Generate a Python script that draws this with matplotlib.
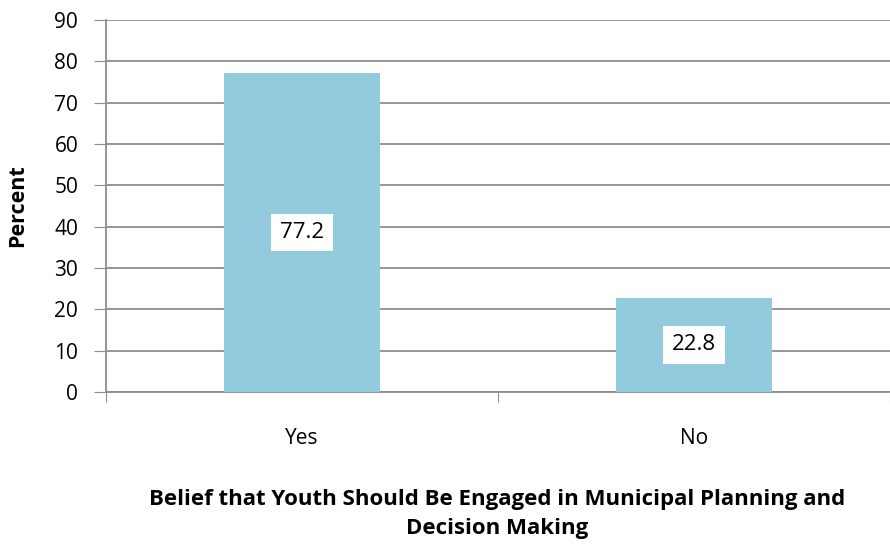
import matplotlib
matplotlib.use("Agg")
import matplotlib.pyplot as plt

categories = ["Yes", "No"]
percent = [77.2, 22.8]
y_ticks = [0, 10, 20, 30, 40, 50, 60, 70, 80, 90]

plt.rcParams['font.family'] = ['Open Sans', 'DejaVu Sans']

W, H = 890, 546
fig = plt.figure(figsize=(W / 100, H / 100), dpi=100)
ax = fig.add_axes([106 / W, 1 - 392 / H, (890 - 106) / W, (392 - 20) / H])

bar_color = "#92cbdd"
grid_color = "#8e8e8e"

x = list(range(len(categories)))
ax.bar(x, percent, width=0.398, color=bar_color, zorder=3)

for xi, v in zip(x, percent):
    ax.text(xi, v / 2, f"{v:.1f}", ha="center", va="center", fontsize=16,
            zorder=4,
            bbox=dict(boxstyle="square,pad=0.38", facecolor="white", edgecolor="none"))

ax.set_ylim(0, 90)
ax.set_xlim(-0.5, 1.475)
ax.set_yticks(y_ticks)
ax.tick_params(axis="y", length=9, color=grid_color, labelsize=15, pad=11)
ax.yaxis.grid(True, color=grid_color, linewidth=1.3, zorder=0)
ax.set_axisbelow(True)

# category ticks sit on the boundaries between categories
ax.set_xticks([-0.5, 0.5, 1.5], minor=False)
ax.set_xticklabels(["", "", ""])
ax.tick_params(axis="x", length=7, color=grid_color, direction="out")
ax.set_xticks(x, minor=True)
ax.set_xticklabels(categories, minor=True)
ax.tick_params(axis="x", which="minor", length=0, labelsize=15, pad=26)

for side in ("top", "right"):
    ax.spines[side].set_visible(False)
for side in ("left", "bottom"):
    ax.spines[side].set_color(grid_color)
    ax.spines[side].set_linewidth(1.3)

fig.text(18 / W, 1 - 206 / H, "Percent", rotation=90, ha="center", va="center",
         fontsize=15.5, fontweight="bold")

fig.text(497 / W, 1 - 514 / H,
         "Belief that Youth Should Be Engaged in Municipal Planning and\nDecision Making",
         ha="center", va="center", fontsize=16, fontweight="bold",
         linespacing=1.5)

fig.savefig("out.png", dpi=100)
